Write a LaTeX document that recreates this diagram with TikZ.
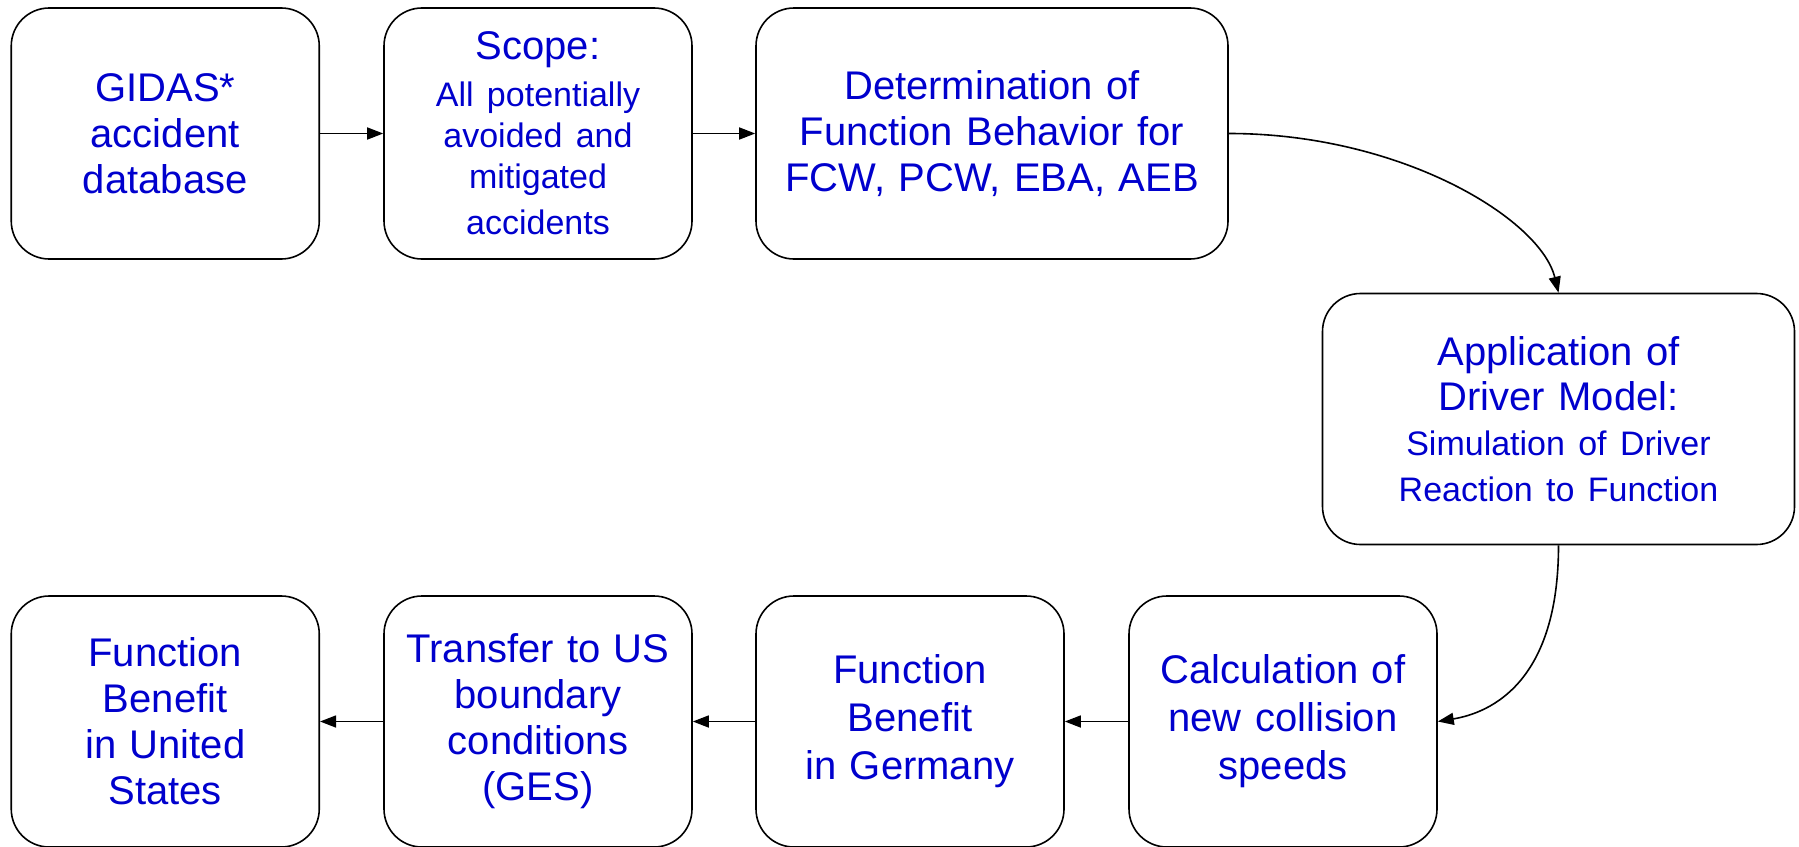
\documentclass[tikz,border=0pt]{standalone}
\usepackage{fontspec}
\setmainfont{Liberation Sans}
\usepackage{tikz}
\usetikzlibrary{arrows.meta}
\definecolor{txtblue}{RGB}{0,0,205}
\newcommand{\bigtxt}{\fontsize{20}{23}\selectfont}
\newcommand{\smtxt}{\fontsize{17}{20.5}\selectfont}

\begin{document}
\begin{tikzpicture}[x=0.5pt, y=-0.5pt, line width=0.8pt, >={Triangle[length=8pt,width=6pt]},
    stepbox/.style={draw, rounded corners=19pt, minimum width=154pt, minimum height=125.5pt,
        text width=146pt, inner sep=3pt, align=center, text=txtblue, font=\bigtxt},
    widebox/.style={stepbox, minimum width=236pt, text width=228pt},
    loose/.style={font=\fontsize{20}{24}\selectfont}]
    \useasboundingbox (0,0) rectangle (1799,846);

    % Boxes
    \node [stepbox] (gidas) at (165.25,133.5) {GIDAS*\\accident\\database};
    \node [stepbox] (scope) at (538,133.5) {Scope:\par\vspace{3pt}\smtxt All potentially\\avoided and\\mitigated\\accidents};
    \node [widebox] (behav) at (992,133.5) {Determination of\\Function Behavior for\\FCW, PCW, EBA, AEB};
    \node [widebox] (driver) at (1558.5,419) {\fontsize{20}{22.5}\selectfont Application of\\Driver Model:\par\fontsize{17}{22.3}\selectfont Simulation of Driver\\Reaction to Function};
    \node [stepbox, loose] (calc) at (1283,721.5) {Calculation of\\new collision\\speeds};
    \node [stepbox, loose] (deben) at (910,721.5) {Function\\Benefit\\in Germany};
    \node [stepbox] (transfer) at (538,721.5) {Transfer to US\\boundary\\conditions\\(GES)};
    \node [stepbox] (usben) at (165.25,721.5) {Function\\Benefit\\in United\\States};

    % Arrows
    \draw [->] (gidas) -- (scope);
    \draw [->] (scope) -- (behav);
    \draw [->] (behav.east) .. controls +(172,0) and +(-18,-74) .. (driver.north);
    \draw [->] (driver.south) .. controls +(0,136) and +(54,-9) .. (calc.east);
    \draw [->] (calc) -- (deben);
    \draw [->] (deben) -- (transfer);
    \draw [->] (transfer) -- (usben);
\end{tikzpicture}
\end{document}
